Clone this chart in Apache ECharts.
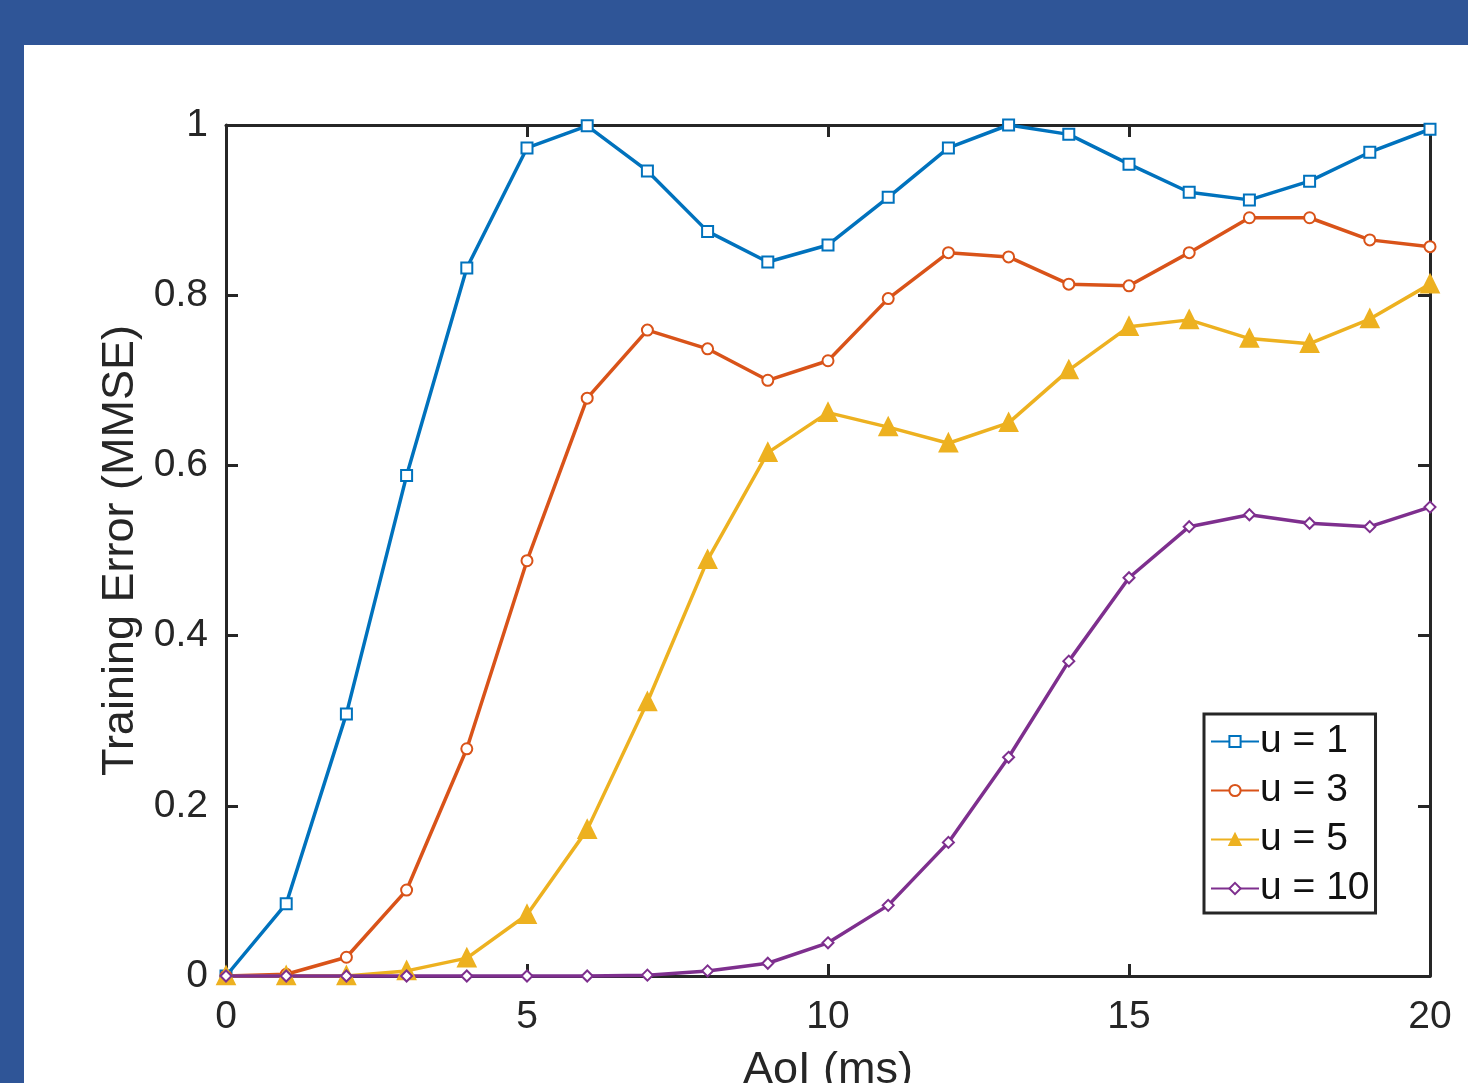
<!DOCTYPE html>
<html>
<head>
<meta charset="utf-8">
<script src="https://cdn.jsdelivr.net/npm/echarts@6/dist/echarts.min.js"></script>
<style>
  html, body { margin: 0; padding: 0; width: 1468px; height: 1083px; overflow: hidden; background: #2f5597; }
  #chart { position: absolute; left: 24px; top: 45px; width: 1444px; height: 1038px; background: #fff; }
</style>
</head>
<body>
<div id="chart"></div>
<script>
// AoI values (ms)
const aoi = [0, 1, 2, 3, 4, 5, 6, 7, 8, 9, 10, 11, 12, 13, 14, 15, 16, 17, 18, 19, 20];

// training error (MMSE) per u
const errU1 = [0, 0.085, 0.308, 0.588, 0.832, 0.973, 0.999, 0.946, 0.875, 0.839, 0.859, 0.915, 0.973, 1.0, 0.989, 0.954, 0.921, 0.912, 0.934, 0.968, 0.995];
const errU3 = [0, 0.002, 0.022, 0.101, 0.267, 0.488, 0.679, 0.759, 0.737, 0.700, 0.723, 0.796, 0.850, 0.845, 0.813, 0.811, 0.850, 0.891, 0.891, 0.865, 0.857];
const errU5 = [0, 0, 0, 0.006, 0.021, 0.072, 0.172, 0.322, 0.489, 0.615, 0.662, 0.645, 0.626, 0.650, 0.712, 0.763, 0.771, 0.749, 0.743, 0.772, 0.813];
const errU10 = [0, 0, 0, 0, 0, 0, 0, 0.001, 0.006, 0.015, 0.039, 0.083, 0.157, 0.257, 0.370, 0.468, 0.528, 0.542, 0.532, 0.528, 0.551];

const seriesNames = ["u = 1", "u = 3", "u = 5", "u = 10"];
const seriesColors = ["#0072bd", "#d95319", "#edb120", "#7e2f8e"];
const seriesSymbols = ["emptyRect", "emptyCircle", "triangle", "emptyDiamond"];

const font = "Liberation Sans, Arial, Helvetica, sans-serif";
const axisColor = "#262626";

function pairs(values) {
  return aoi.map((x, i) => [x, values[i]]);
}

function boxAxis(extra) {
  return {
    axisLine: { show: true, onZero: false, lineStyle: { color: axisColor, width: 3 } },
    axisTick: { show: true, inside: true, length: 12, lineStyle: { color: axisColor, width: 3 } },
    splitLine: { show: false },
    ...extra,
  };
}

const chart = echarts.init(document.getElementById("chart"), null, { renderer: "canvas" });

chart.setOption({
  animation: false,
  backgroundColor: "#ffffff",
  grid: { left: 202, top: 80, right: 38, bottom: 107, outerBoundsMode: "none" },
  legend: {
    orient: "vertical",
    left: 1180,
    top: 669,
    padding: [8, 6, 5, 6],
    itemWidth: 48,
    itemHeight: 14,
    itemGap: 10,
    borderColor: axisColor,
    borderWidth: 3,
    backgroundColor: "#fff",
    textStyle: { color: "#111", fontFamily: font, fontSize: 39, padding: [0, 0, 0, -4] },
    data: seriesNames,
  },
  xAxis: [
    boxAxis({
      type: "value",
      min: 0,
      max: 20,
      interval: 5,
      position: "bottom",
      name: "AoI (ms)",
      nameLocation: "middle",
      nameGap: 72,
      nameTextStyle: { color: "#262626", fontFamily: font, fontSize: 45 },
      axisLabel: { color: "#262626", fontFamily: font, fontSize: 39, margin: 22 },
    }),
    boxAxis({
      type: "value",
      min: 0,
      max: 20,
      interval: 5,
      position: "top",
      axisLabel: { show: false },
    }),
  ],
  yAxis: [
    boxAxis({
      type: "value",
      min: 0,
      max: 1,
      interval: 0.2,
      position: "left",
      name: "Training Error (MMSE)",
      nameLocation: "middle",
      nameGap: 76,
      nameTextStyle: { color: "#262626", fontFamily: font, fontSize: 45, padding: [0, 0, 0, 0] },
      axisLabel: {
        color: "#262626",
        fontFamily: font,
        fontSize: 39,
        margin: 18,
        formatter: (v) => (v === 0 || v === 1 ? String(v) : v.toFixed(1)),
      },
    }),
    boxAxis({
      type: "value",
      min: 0,
      max: 1,
      interval: 0.2,
      position: "right",
      axisLabel: { show: false },
    }),
  ],
  series: [errU1, errU3, errU5, errU10].map((values, i) => ({
    name: seriesNames[i],
    type: "line",
    xAxisIndex: 0,
    yAxisIndex: 0,
    data: pairs(values),
    color: seriesColors[i],
    symbol: seriesSymbols[i],
    symbolSize: i === 2 ? 15 : 11,
    showAllSymbol: true,
    lineStyle: { width: 3.5, color: seriesColors[i] },
    itemStyle: { color: seriesColors[i], borderColor: seriesColors[i], borderWidth: 3.5 },
    clip: false,
  })),
});
</script>
</body>
</html>
